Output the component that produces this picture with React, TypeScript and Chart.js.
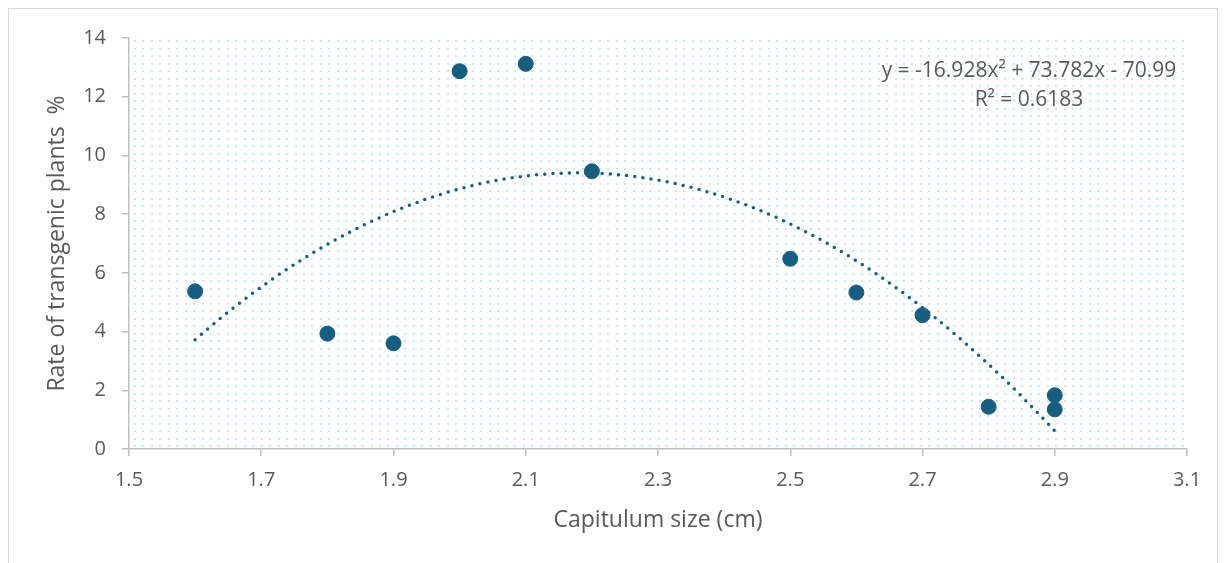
import React, { useEffect, useRef } from 'react';
import { Chart, registerables } from 'chart.js';

Chart.register(...registerables);

// ---- data ----
const capitulumSize = [1.6, 1.8, 1.9, 2.0, 2.1, 2.2, 2.5, 2.6, 2.7, 2.8, 2.9, 2.9];
const transgenicRate = [5.37, 3.93, 3.6, 12.87, 13.12, 9.46, 6.48, 5.33, 4.56, 1.44, 1.83, 1.35];
// polynomial trendline (order 2) as reported on the chart: a*x^2 + b*x + c
const trendCoefficients = [-16.928, 73.782, -70.99];
const trendRange = [1.6, 2.9];
const xTicks = [1.5, 1.7, 1.9, 2.1, 2.3, 2.5, 2.7, 2.9, 3.1];
const yTicks = [0, 2, 4, 6, 8, 10, 12, 14];
const equationLabel = 'y = -16.928x² + 73.782x - 70.99';
const r2Label = 'R² = 0.6183';
const xTitle = 'Capitulum size (cm)';
const yTitle = 'Rate of transgenic plants  %';

const MARKER = '#175E80';
const TEXT = '#595959';
const AXIS = '#bfbfbf';
const FONT = "'Open Sans', sans-serif";

function trendPoints() {
  const pts: { x: number; y: number }[] = [];
  const [a, b, c] = trendCoefficients;
  const n = 130;
  for (let i = 0; i <= n; i++) {
    const x = trendRange[0] + ((trendRange[1] - trendRange[0]) * i) / n;
    pts.push({ x, y: a * x * x + b * x + c });
  }
  return pts;
}

const dotPattern = {
  id: 'dotPattern',
  beforeDatasetsDraw(chart: any) {
    const { ctx, chartArea } = chart;
    ctx.save();
    ctx.fillStyle = '#c8e7f7';
    const dx = 8.45;
    const dy = 7.5;
    for (let y = chartArea.top + 2; y < chartArea.bottom - 1; y += dy) {
      for (let x = chartArea.left + 5; x < chartArea.right - 1; x += dx) {
        ctx.fillRect(Math.round(x), Math.round(y), 2, 2);
      }
    }
    ctx.restore();
  },
};

const equationPlugin = {
  id: 'equationPlugin',
  afterDatasetsDraw(chart: any) {
    const { ctx, chartArea } = chart;
    ctx.save();
    ctx.fillStyle = TEXT;
    ctx.font = `21px ${FONT}`;
    ctx.textAlign = 'center';
    ctx.textBaseline = 'middle';
    const cx = chartArea.right - 158;
    ctx.fillText(equationLabel, cx, chartArea.top + 33);
    ctx.fillText(r2Label, cx, chartArea.top + 62);
    ctx.restore();
  },
};

export default function App() {
  const ref = useRef<HTMLCanvasElement>(null);

  useEffect(() => {
    document.documentElement.style.overflow = 'hidden';
    document.body.style.overflow = 'hidden';
    const canvas = ref.current!;
    const scatter = capitulumSize.map((x, i) => ({ x, y: transgenicRate[i] }));
    const chart = new Chart(canvas, {
      type: 'scatter',
      data: {
        datasets: [
          {
            label: 'trend',
            data: trendPoints(),
            showLine: true,
            borderColor: MARKER,
            borderWidth: 3.5,
            borderDash: [0, 8.2],
            borderCapStyle: 'round',
            pointRadius: 0,
            pointHoverRadius: 0,
            order: 0,
          } as any,
          {
            label: 'data',
            data: scatter,
            backgroundColor: MARKER,
            borderColor: MARKER,
            pointRadius: 7.5,
            pointHoverRadius: 7.5,
            order: 1,
          },
        ],
      },
      options: {
        responsive: false,
        animation: false,
        events: [],
        layout: { padding: { top: 29, right: 30, bottom: 0, left: 0 } },
        plugins: { legend: { display: false }, tooltip: { enabled: false } },
        scales: {
          x: {
            type: 'linear',
            min: 1.5,
            max: 3.1,
            afterBuildTicks: (s: any) => {
              s.ticks = xTicks.map((v) => ({ value: v }));
            },
            afterFit: (s: any) => {
              s.height = 114;
            },
            grid: { display: true, drawOnChartArea: false, drawTicks: true, tickLength: 7, color: AXIS, lineWidth: 1.5 },
            border: { display: true, color: AXIS, width: 1.5 },
            ticks: {
              color: TEXT,
              font: { family: FONT, size: 20 },
              padding: 12,
              maxRotation: 0,
              callback: (v: any) => Number(v).toFixed(1),
            },
            title: {
              display: true,
              text: xTitle,
              color: TEXT,
              font: { family: FONT, size: 23 },
              padding: { top: 0, bottom: 29 },
            },
          },
          y: {
            type: 'linear',
            min: 0,
            max: 14,
            afterBuildTicks: (s: any) => {
              s.ticks = yTicks.map((v) => ({ value: v }));
            },
            afterFit: (s: any) => {
              s.width = 120;
            },
            grid: { display: true, drawOnChartArea: false, drawTicks: true, tickLength: 7, color: AXIS, lineWidth: 1.5 },
            border: { display: true, color: AXIS, width: 1.5 },
            ticks: {
              color: TEXT,
              font: { family: FONT, size: 20 },
              padding: 16,
              callback: (v: any) => String(v),
            },
            title: {
              display: true,
              text: yTitle,
              color: TEXT,
              font: { family: FONT, size: 23 },
              padding: { top: 35, bottom: 0 },
            },
          },
        },
      },
      plugins: [dotPattern, equationPlugin],
    });
    return () => chart.destroy();
  }, []);

  return (
    <div
      style={{
        border: '1px solid #d9d9d9',
        width: 1208,
        height: 580,
        boxSizing: 'content-box',
      }}
    >
      <canvas ref={ref} width={1208} height={554} style={{ display: 'block' }} />
    </div>
  );
}
